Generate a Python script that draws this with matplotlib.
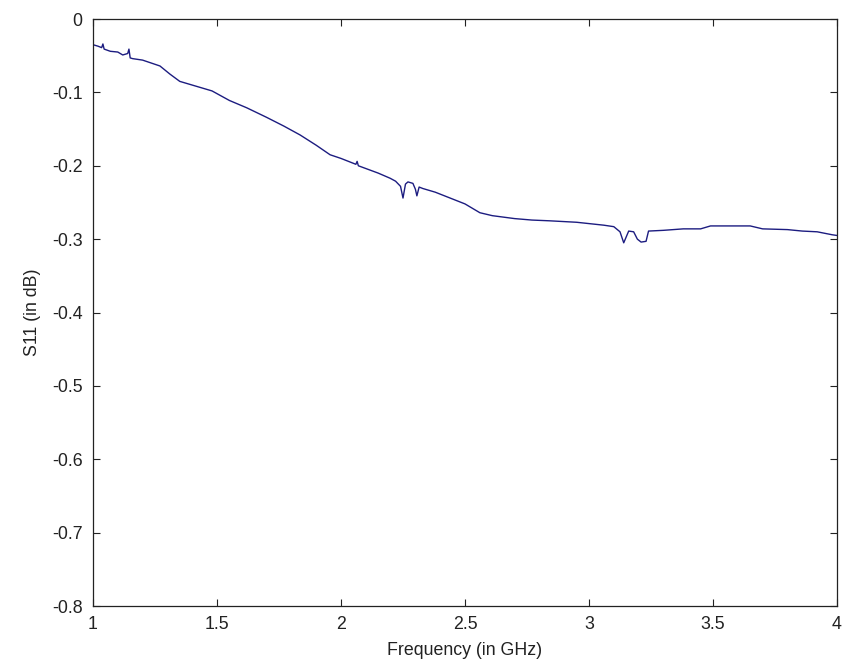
import matplotlib
matplotlib.use("Agg")
import matplotlib.pyplot as plt

# measured reflection, S11 vs frequency
freq_ghz = [1.00, 1.02, 1.035, 1.04, 1.045, 1.07, 1.10, 1.12, 1.14, 1.145, 1.15, 1.16,
            1.20, 1.27, 1.31, 1.35, 1.43, 1.48, 1.55, 1.62, 1.70, 1.77, 1.835, 1.90,
            1.956, 2.00, 2.06, 2.065, 2.07, 2.15, 2.198, 2.22, 2.24, 2.25, 2.26,
            2.27, 2.29, 2.30, 2.306, 2.315, 2.33, 2.38, 2.44, 2.50, 2.56, 2.61,
            2.70, 2.77, 2.84, 2.95, 3.06, 3.10, 3.125, 3.14, 3.16, 3.18, 3.195,
            3.21, 3.23, 3.24, 3.30, 3.38, 3.45, 3.49, 3.55, 3.65, 3.70, 3.80,
            3.86, 3.92, 3.98, 4.00]
s11_db = [-0.035, -0.037, -0.039, -0.034, -0.041, -0.044, -0.045, -0.049, -0.047, -0.041,
          -0.053, -0.054, -0.056, -0.064, -0.075, -0.085, -0.093, -0.098, -0.111, -0.121,
          -0.134, -0.146, -0.158, -0.172, -0.185, -0.190, -0.198, -0.194, -0.200, -0.210,
          -0.217, -0.221, -0.228, -0.244, -0.225, -0.222, -0.224, -0.232, -0.241, -0.229,
          -0.231, -0.236, -0.244, -0.252, -0.264, -0.268, -0.272, -0.274, -0.275, -0.277,
          -0.281, -0.283, -0.290, -0.305, -0.289, -0.290, -0.300, -0.304, -0.303, -0.289,
          -0.288, -0.286, -0.286, -0.282, -0.282, -0.282, -0.286, -0.287, -0.289, -0.290,
          -0.294, -0.295]

x_ticks = [1, 1.5, 2, 2.5, 3, 3.5, 4]
x_labels = ["1", "1.5", "2", "2.5", "3", "3.5", "4"]
y_ticks = [0, -0.1, -0.2, -0.3, -0.4, -0.5, -0.6, -0.7, -0.8]
y_labels = ["0", "-0.1", "-0.2", "-0.3", "-0.4", "-0.5", "-0.6", "-0.7", "-0.8"]

plt.rcParams['font.family'] = ['Liberation Sans', 'DejaVu Sans']
plt.rcParams['font.size'] = 12.8

fig = plt.figure(figsize=(8.43, 6.72), dpi=100)
ax = fig.add_axes([0.1103, 0.0982, 0.8826, 0.8735])

ax.plot(freq_ghz, s11_db, color='#1c1c80', lw=1.0)

ax.set_xlim(1, 4)
ax.set_ylim(-0.8, 0)
ax.set_xticks(x_ticks)
ax.set_xticklabels(x_labels)
ax.set_yticks(y_ticks)
ax.set_yticklabels(y_labels)
ax.tick_params(direction='in', length=5, width=0.8, top=True, right=True,
               colors='#222222', pad=7.5)
for sp in ax.spines.values():
    sp.set_linewidth(0.9)
    sp.set_color('#222222')

ax.set_xlabel('Frequency (in GHz)', color='#222222', labelpad=6)
ax.set_ylabel('S11 (in dB)', color='#222222', labelpad=8)

fig.savefig('out.png', dpi=100)
